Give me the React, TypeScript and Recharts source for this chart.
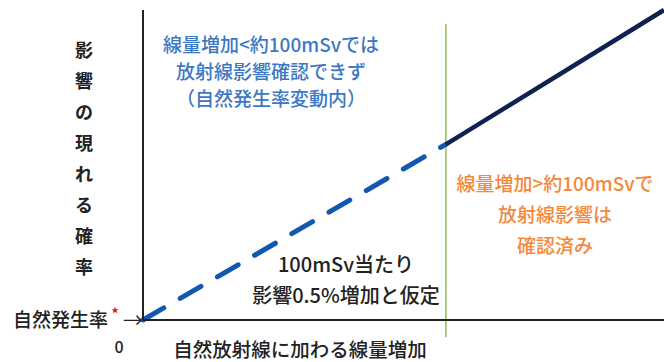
import React from 'react';
import { LineChart, Line, XAxis, YAxis, ReferenceLine } from 'recharts';

// dose increase (mSv) vs. added probability (%)
const assumedDose = [0, 100];
const assumedRisk = [0, 0.51];
const confirmedDose = [100, 172];
const confirmedRisk = [0.51, 0.9];
const thresholdDose = 100;
const thresholdSpan = [-0.05, 0.86];

const yLabelChars = ['影', '響', 'の', '現', 'れ', 'る', '確', '率'];
const blueLines = ['線量増加<約100mSvでは', '放射線影響確認できず', '（自然発生率変動内）'];
const orangeLines = ['線量増加>約100mSvで', '放射線影響は', '確認済み'];
const noteLines = ['100mSv当たり', '影響0.5%増加と仮定'];
const xTitle = '自然放射線に加わる線量増加';
const baseLabel = '自然発生率';

const W = 664;
const H = 362;
const FONT = '"Noto Sans CJK JP", "Noto Sans", sans-serif';

const assumed = assumedDose.map((x, i) => ({ x, y: assumedRisk[i] }));
const confirmed = confirmedDose.map((x, i) => ({ x, y: confirmedRisk[i] }));

export default function App() {
  return (
    <div style={{ position: 'absolute', left: 0, top: 0, width: W, height: H, background: '#fff' }}>
      <LineChart width={W} height={H} margin={{ top: 10, right: 0, bottom: 41, left: 142 }}>
        <XAxis
          type="number"
          dataKey="x"
          domain={[0, 172]}
          tick={false}
          tickLine={false}
          height={1}
          axisLine={{ stroke: '#222', strokeWidth: 2 }}
        />
        <YAxis
          type="number"
          dataKey="y"
          domain={[0, 0.9]}
          tick={false}
          tickLine={false}
          width={1}
          axisLine={{ stroke: '#222', strokeWidth: 2 }}
        />
        <ReferenceLine
          segment={[
            { x: thresholdDose, y: thresholdSpan[0] },
            { x: thresholdDose, y: thresholdSpan[1] },
          ]}
          ifOverflow="visible"
          stroke="#93c052"
          strokeWidth={1.5}
        />
        <Line
          data={assumed}
          dataKey="y"
          type="linear"
          stroke="#1257b0"
          strokeWidth={5}
          strokeDasharray="24 19"
          strokeLinecap="round"
          dot={false}
          isAnimationActive={false}
        />
        <Line
          data={confirmed}
          dataKey="y"
          type="linear"
          stroke="#0f2150"
          strokeWidth={4.5}
          dot={false}
          isAnimationActive={false}
        />
      </LineChart>

      <svg
        width={W}
        height={H}
        style={{ position: 'absolute', left: 0, top: 0, pointerEvents: 'none' }}
        fontFamily={FONT}
      >
        {/* vertical y title */}
        {yLabelChars.map((c, i) => (
          <text key={c + i} x={84} y={49 + i * 31} fontSize={18} fontWeight={700} fill="#222" textAnchor="middle" dominantBaseline="central">
            {c}
          </text>
        ))}

        {blueLines.map((t, i) => (
          <text key={t} x={271} y={43 + i * 27} fontSize={19} fontWeight={500} fill="#3d78c4" textAnchor="middle" dominantBaseline="central">
            {t}
          </text>
        ))}

        {orangeLines.map((t, i) => (
          <text key={t} x={555} y={182 + i * 31} fontSize={19} fontWeight={500} fill="#f5883a" textAnchor="middle" dominantBaseline="central">
            {t}
          </text>
        ))}

        {noteLines.map((t, i) => (
          <text key={t} x={346} y={263 + i * 31} fontSize={20} fontWeight={500} fill="#222" textAnchor="middle" dominantBaseline="central">
            {t}
          </text>
        ))}

        <text x={13} y={318} fontSize={19} fontWeight={500} fill="#222" dominantBaseline="central">
          {baseLabel}
        </text>
        <text x={115} y={313} fontSize={14} fontWeight={700} fill="#e01010" textAnchor="middle" dominantBaseline="central">
          *
        </text>
        <text x={133} y={319} fontSize={20} fill="#222" textAnchor="middle" dominantBaseline="central">
          →
        </text>

        <text x={119} y={346} fontSize={16} fontWeight={500} fill="#222" textAnchor="middle" dominantBaseline="central">
          0
        </text>
        <text x={300} y={348} fontSize={19.5} fontWeight={500} fill="#222" textAnchor="middle" dominantBaseline="central">
          {xTitle}
        </text>
      </svg>
    </div>
  );
}
